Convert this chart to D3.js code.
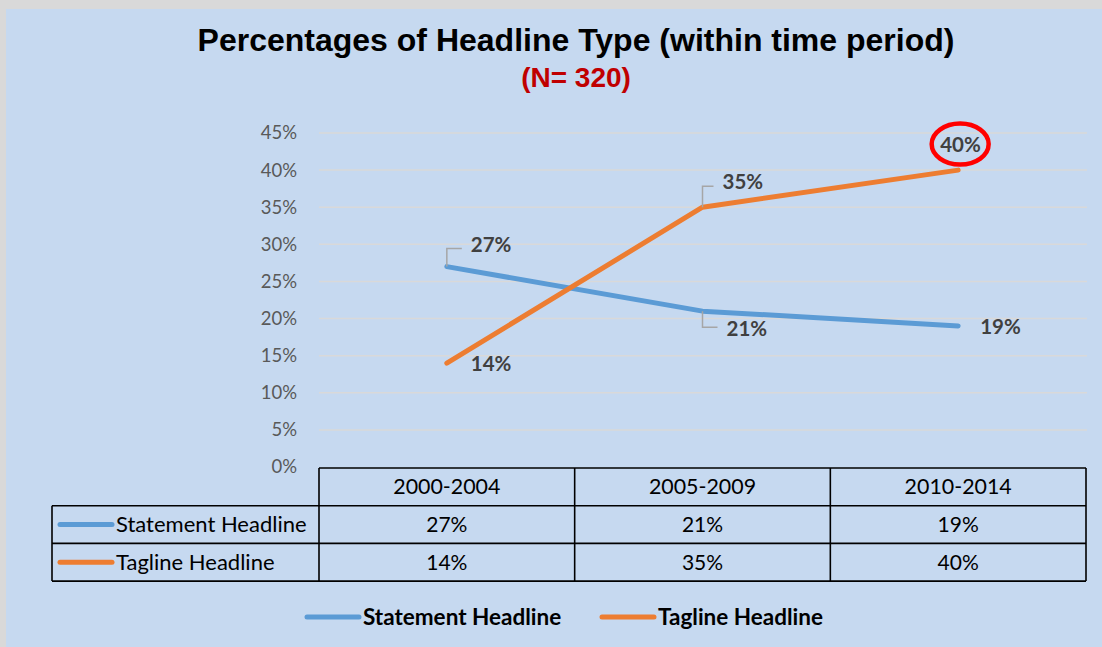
<!DOCTYPE html>
<html>
<head>
<meta charset="utf-8">
<script src="https://cdn.jsdelivr.net/npm/d3@7"></script>
<style>
  html, body { margin: 0; padding: 0; background: #D9D9D9; }
  svg { display: block; }
</style>
</head>
<body>
<svg id="chart" width="1102" height="647"></svg>
<script>
// Periods and the share of each headline type within them
const periods = ["2000-2004", "2005-2009", "2010-2014"];
const statementValues = [27, 21, 19];
const taglineValues = [14, 35, 40];
const seriesNames = ["Statement Headline", "Tagline Headline"];
const yTicks = [0, 5, 10, 15, 20, 25, 30, 35, 40, 45];

const colors = { "Statement Headline": "#5B9BD5", "Tagline Headline": "#ED7D31" };
const series = [
  { name: seriesNames[0], values: statementValues },
  { name: seriesNames[1], values: taglineValues }
];

const font = "Lato, 'Open Sans', sans-serif";
const svg = d3.select("#chart");

// panel background
svg.append("rect").attr("x", 6).attr("y", 9).attr("width", 1096).attr("height", 638)
  .attr("fill", "#C6D9F0");

// titles
svg.append("text").attr("x", 576).attr("y", 51).attr("text-anchor", "middle")
  .attr("font-family", "Arial, 'Liberation Sans', sans-serif").attr("font-weight", "bold")
  .attr("font-size", 32).attr("fill", "#000").text("Percentages of Headline Type (within time period)");
svg.append("text").attr("x", 576).attr("y", 87).attr("text-anchor", "middle")
  .attr("font-family", "Arial, 'Liberation Sans', sans-serif").attr("font-weight", "bold")
  .attr("font-size", 28).attr("fill", "#C00000").text("(N= 320)");

// scales
const x = d3.scaleBand().domain(periods).range([319, 1086]).padding(0);
const y = d3.scaleLinear().domain([0, 45]).range([467, 133]);
const cx = p => x(p) + x.bandwidth() / 2;

// gridlines
svg.append("g").selectAll("line").data(yTicks.filter(t => t > 0)).join("line")
  .attr("x1", 319).attr("x2", 1087)
  .attr("y1", d => y(d)).attr("y2", d => y(d))
  .attr("stroke", "#D9D9D9").attr("stroke-width", 1.5);

// y axis labels
const yAxis = d3.axisLeft(y).tickValues(yTicks).tickFormat(d => d + "%").tickSize(0).tickPadding(0);
const yg = svg.append("g").attr("transform", "translate(297,0)").call(yAxis);
yg.select(".domain").remove();
yg.selectAll("text").attr("font-family", font).attr("font-size", 18.5).attr("fill", "#595959")
  .attr("dy", "0.32em");

// lines
const line = d3.line().x((d, i) => cx(periods[i])).y(d => y(d));
svg.append("g").selectAll("path").data(series).join("path")
  .attr("d", d => line(d.values))
  .attr("fill", "none").attr("stroke", d => colors[d.name])
  .attr("stroke-width", 5).attr("stroke-linecap", "round").attr("stroke-linejoin", "round");

// data labels with leader lines where the label sits off the point
const labels = [
  { s: 0, i: 0, dx: 24, dy: -22, leader: true },
  { s: 0, i: 1, dx: 24, dy: 18, leader: true },
  { s: 0, i: 2, dx: 22, dy: 1, leader: false },
  { s: 1, i: 0, dx: 24, dy: 0, leader: false, abs: 364 },
  { s: 1, i: 1, dx: 20, dy: -25, leader: true },
  { s: 1, i: 2, dx: -18, dy: -25, leader: false }
];
const lg = svg.append("g");
labels.forEach(l => {
  const v = series[l.s].values[l.i];
  const px = cx(periods[l.i]);
  const py = y(v);
  const ty = l.abs !== undefined ? l.abs : py + l.dy;
  if (l.leader) {
    const ly = l.dy < 0 ? ty + 4 : ty - 2;
    lg.append("path")
      .attr("d", `M${px},${py} L${px},${ly} L${px + l.dx - 9},${ly}`)
      .attr("fill", "none").attr("stroke", "#A6A6A6").attr("stroke-width", 1.5);
  }
  lg.append("text").attr("x", px + l.dx).attr("y", ty).attr("dy", "0.35em")
    .attr("font-family", font).attr("font-weight", "bold").attr("font-size", 20.5)
    .attr("fill", "#404040").text(v + "%");
});

// highlight circle on the latest tagline value
const hx = cx(periods[2]) + 2, hy = y(taglineValues[2]) - 26;
svg.append("ellipse").attr("cx", hx).attr("cy", hy).attr("rx", 28.5).attr("ry", 20.5)
  .attr("fill", "none").attr("stroke", "#FF0000").attr("stroke-width", 4.5);

// data table
const tTop = 468, rowH = 37.7, leftX = 52;
const tg = svg.append("g");
function hline(x1, x2, yy) {
  tg.append("line").attr("x1", x1).attr("x2", x2).attr("y1", yy).attr("y2", yy)
    .attr("stroke", "#000").attr("stroke-width", 1.6);
}
function vline(xx, y1, y2) {
  tg.append("line").attr("x1", xx).attr("x2", xx).attr("y1", y1).attr("y2", y2)
    .attr("stroke", "#000").attr("stroke-width", 1.6);
}
hline(319, 1086, tTop);
[1, 2, 3].forEach(r => hline(leftX, 1086, tTop + r * rowH));
vline(leftX, tTop + rowH, tTop + 3 * rowH);
periods.forEach(p => vline(x(p), tTop, tTop + 3 * rowH));
vline(1086, tTop, tTop + 3 * rowH);

periods.forEach(p => {
  tg.append("text").attr("x", cx(p)).attr("y", tTop + rowH / 2).attr("dy", "0.35em")
    .attr("text-anchor", "middle").attr("font-family", font).attr("font-size", 21.4)
    .attr("fill", "#000").text(p);
});
series.forEach((s, r) => {
  const ry = tTop + (r + 1.5) * rowH;
  tg.append("line").attr("x1", 60).attr("x2", 112).attr("y1", ry).attr("y2", ry)
    .attr("stroke", colors[s.name]).attr("stroke-width", 5).attr("stroke-linecap", "round");
  tg.append("text").attr("x", 116).attr("y", ry).attr("dy", "0.35em")
    .attr("font-family", font).attr("font-size", 22).attr("fill", "#000").text(s.name);
  s.values.forEach((v, i) => {
    tg.append("text").attr("x", cx(periods[i])).attr("y", ry).attr("dy", "0.35em")
      .attr("text-anchor", "middle").attr("font-family", font).attr("font-size", 21)
      .attr("fill", "#000").text(v + "%");
  });
});

// legend
const legendItems = [
  { name: seriesNames[0], x: 307 },
  { name: seriesNames[1], x: 602 }
];
const leg = svg.append("g");
legendItems.forEach(d => {
  leg.append("line").attr("x1", d.x).attr("x2", d.x + 52).attr("y1", 617).attr("y2", 617)
    .attr("stroke", colors[d.name]).attr("stroke-width", 5).attr("stroke-linecap", "round");
  leg.append("text").attr("x", d.x + 56).attr("y", 617).attr("dy", "0.35em")
    .attr("font-family", font).attr("font-weight", "bold").attr("font-size", 22.5)
    .attr("fill", "#000").text(d.name);
});
</script>
</body>
</html>
